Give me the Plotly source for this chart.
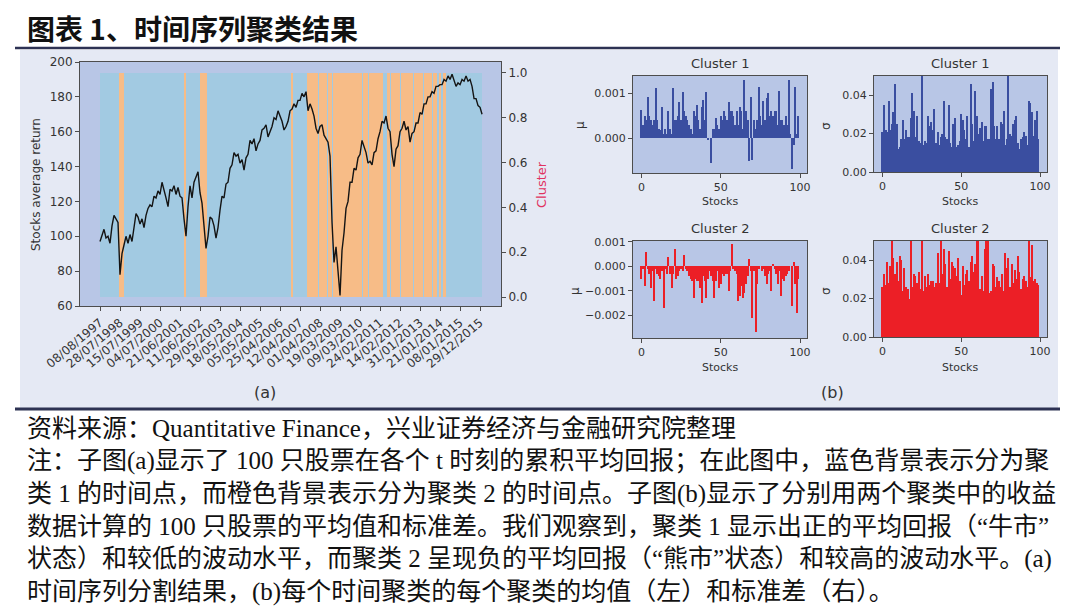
import plotly.graph_objects as go

W, H = 1080, 614
def px(x): return x / W
def py(y): return 1 - y / H

# ---------------- data ----------------
title_text = "图表 1、时间序列聚类结果"
date_tick_labels = ["08/08/1997", "28/07/1998", "15/07/1999", "04/07/2000", "21/06/2001",
                    "11/06/2002", "29/05/2003", "18/05/2004", "05/05/2005", "25/04/2006",
                    "12/04/2007", "01/04/2008", "19/03/2009", "09/03/2010", "24/02/2011",
                    "14/02/2012", "31/01/2013", "21/01/2014", "08/01/2015", "29/12/2015"]
days_per_tick = 250
days_per_sample = 25

# cumulative average return, sampled every 25 trading days
avg_return = [97, 101, 104, 99, 100, 96, 106, 112, 110, 108, 78, 90, 95, 100, 96, 101, 97, 105, 113, 111,
              107, 110, 105, 112, 116, 118, 117, 123, 122, 126, 124, 131, 127, 122, 117, 127, 126, 129, 124, 128,
              123, 122, 110, 100, 117, 129, 122, 131, 134, 137, 125, 119, 106, 93, 100, 111, 110, 106, 99, 105,
              115, 123, 122, 130, 131, 139, 141, 148, 146, 147, 142, 144, 138, 145, 147, 155, 153, 156, 149, 153,
              155, 161, 162, 164, 157, 160, 163, 168, 167, 172, 169, 166, 161, 163, 166, 172, 173, 176, 174, 178,
              178, 182, 180, 183, 172, 176, 173, 169, 162, 159, 163, 164, 158, 156, 154, 146, 108, 85, 94, 80,
              66, 92, 102, 116, 120, 131, 131, 139, 138, 145, 147, 155, 151, 148, 142, 143, 141, 148, 149, 156,
              160, 166, 165, 169, 162, 160, 147, 140, 150, 152, 160, 162, 166, 161, 163, 154, 159, 160, 165, 165,
              171, 170, 176, 176, 180, 180, 183, 182, 186, 186, 187, 187, 190, 189, 192, 190, 193, 189, 186, 188,
              187, 190, 189, 192, 189, 190, 186, 179, 179, 175, 174, 170]

# cluster 2 (orange) periods, in trading days; everything else is cluster 1 (blue)
cluster2_start = [237, 1050, 1250, 2388, 2588, 2738, 2850, 2908, 3288, 3363, 3588,
                  3638, 3758, 3920, 4046, 4158, 4238, 4288]
cluster2_end = [300, 1075, 1338, 2413, 2725, 2838, 2895, 3275, 3350, 3538, 3625,
                3745, 3908, 4033, 4145, 4213, 4263, 4325]

mu_cluster1 = [0.00063, 0.0003, 0.0005, 0.0004, 0.00093, 0.0005, 0.0004, 0.0003, 0.0004, 0.00112,
               0.0004, 0.0002, 0.00018, 0.0007, 0.0001, 0.0002, 0.0001, 0.0006, 0.0002, 0.0001,
               0.00112, 0.0004, 0.0004, 0.0005, 0.0008, 0.0004, 0.00103, 0.0006, 0.0005, 0.0004,
               0.0003, 0.0002, 0.0001, 0.0006, 0.0005, 0.00075, 0.0004, 0.0002, 0.0007, 0.00085,
               0.0004, 0.00103, -0.00005, 0.0, -0.00055, 0.0002, 0.0002, 0.00045, 0.0003, 0.0002,
               0.0005, 0.0004, 0.0006, 0.0005, 0.0004, 0.0008, 0.0006, 0.0006, 0.0005, 0.0003,
               0.0006, 0.0003, 0.0007, 0.0006, 0.0002, 0.0013, 0.0006, 0.0004, -0.00052, 0.00093,
               -0.0005, 0.0004, 0.0002, 0.0004, 0.00115, 0.0005, 0.0003, 0.00083, 0.0004, 0.0009,
               0.001, 0.0005, 0.0006, 0.0005, 0.0006, 0.0006, 0.0003, 0.00105, 0.0004, 0.0004,
               0.0003, 0.0005, 0.0003, 0.0013, 0.0001, -0.00068, -0.00015, 0.00115, 0.0001, 0.0005]

sigma_cluster1 = [0.021, 0.035, 0.022, 0.021, 0.037, 0.022, 0.025, 0.031, 0.046, 0.025,
                  0.012, 0.013, 0.017, 0.027, 0.017, 0.022, 0.018, 0.018, 0.028, 0.041,
                  0.032, 0.018, 0.029, 0.016, 0.015, 0.06, 0.014, 0.016, 0.015, 0.029,
                  0.024, 0.026, 0.022, 0.033, 0.015, 0.021, 0.014, 0.018, 0.020, 0.037,
                  0.018, 0.017, 0.035, 0.015, 0.013, 0.025, 0.028, 0.013, 0.014, 0.016,
                  0.030, 0.027, 0.022, 0.017, 0.029, 0.013, 0.046, 0.025, 0.016, 0.042,
                  0.029, 0.020, 0.023, 0.026, 0.016, 0.024, 0.024, 0.017, 0.017, 0.043,
                  0.047, 0.024, 0.017, 0.024, 0.017, 0.026, 0.025, 0.032, 0.014, 0.017,
                  0.06, 0.020, 0.019, 0.025, 0.027, 0.029, 0.015, 0.012, 0.017, 0.018,
                  0.021, 0.019, 0.014, 0.037, 0.036, 0.031, 0.019, 0.027, 0.032, 0.017]

mu_cluster2 = [-0.0005, -0.0001, -0.0008, 0.0006, -0.0001, -0.0003, -0.0009, -0.0002, -0.0014, -0.0001,
               -0.0003, -0.0004, -0.0005, -0.0002, -0.0017, -0.0001, -0.0003, 0.0004, -0.0003, -0.0009,
               -0.0003, 0.0007, -0.0005, -0.0004, -0.0002, -0.0001, -0.0002, 0.00045, -0.0001, -0.0002,
               -0.0004, -0.0005, -0.0006, -0.0013, -0.0005, -0.0006, -0.0006, -0.0009, -0.0015, -0.0004,
               -0.0006, -0.0013, -0.0005, -0.0002, -0.0004, -0.0006, -0.0013, -0.0006, -0.0002, -0.0009,
               -0.0007, -0.0003, -0.0004, -0.0003, -0.0003, -0.0010, -0.0002, 0.0009, -0.0001, -0.0002,
               -0.0003, -0.0014, -0.0012, -0.0008, -0.0013, -0.0011, -0.0007, -0.0004, 0.0003, -0.0002,
               -0.0021, -0.0002, -0.0027, -0.0007, -0.0001, 0.0, -0.0002, -0.0001, -0.0004, -0.0007,
               -0.0003, -0.0002, -0.0010, 0.0001, -0.0001, -0.0003, -0.0007, -0.0002, -0.0012, -0.0005,
               -0.0006, -0.0004, -0.0003, -0.0002, 0.0, -0.0016, 0.0002, -0.0007, -0.0019, -0.0005]

sigma_cluster2 = [0.026, 0.033, 0.027, 0.039, 0.028, 0.037, 0.06, 0.041, 0.033, 0.039,
                  0.029, 0.042, 0.040, 0.024, 0.036, 0.026, 0.025, 0.020, 0.06, 0.026,
                  0.033, 0.032, 0.028, 0.034, 0.025, 0.06, 0.024, 0.032, 0.026, 0.033,
                  0.027, 0.029, 0.029, 0.026, 0.028, 0.044, 0.028, 0.06, 0.033, 0.046,
                  0.038, 0.026, 0.045, 0.030, 0.039, 0.037, 0.036, 0.032, 0.041, 0.029,
                  0.022, 0.037, 0.027, 0.033, 0.035, 0.029, 0.039, 0.042, 0.034, 0.038,
                  0.06, 0.06, 0.025, 0.032, 0.024, 0.046, 0.06, 0.06, 0.023, 0.024,
                  0.038, 0.037, 0.026, 0.031, 0.029, 0.026, 0.033, 0.024, 0.044, 0.036,
                  0.041, 0.026, 0.038, 0.028, 0.035, 0.030, 0.042, 0.034, 0.025, 0.030,
                  0.032, 0.029, 0.026, 0.06, 0.031, 0.048, 0.029, 0.030, 0.028, 0.027]

note_lines = [
    "资料来源：Quantitative Finance，兴业证券经济与金融研究院整理",
    "注：子图(a)显示了 100 只股票在各个 t 时刻的累积平均回报；在此图中，蓝色背景表示分为聚",
    "类 1 的时间点，而橙色背景表示分为聚类 2 的时间点。子图(b)显示了分别用两个聚类中的收益",
    "数据计算的 100 只股票的平均值和标准差。我们观察到，聚类 1 显示出正的平均回报（“牛市”",
    "状态）和较低的波动水平，而聚类 2 呈现负的平均回报（“熊市”状态）和较高的波动水平。(a)",
    "时间序列分割结果，(b)每个时间聚类的每个聚类的均值（左）和标准差（右）。",
]

# ---------------- style ----------------
PANEL_BG = "#e5e9f4"
PLOT_BG = "#b8c6e6"
BLUE_BAND = "#a2cae2"
ORANGE_BAND = "#f7bc87"
C1_BAR = "#3a4ea0"
C2_BAR = "#ec1f26"
NAVY = "#2d3253"
TXT = "#333333"
SPINE = "#4d4d4d"
MPL_FONT = "DejaVu Sans"

fig = go.Figure()

# ---- panel (a): cluster bands + average return line ----
sample_days = [i * days_per_sample for i in range(len(avg_return))]
last_day = sample_days[-1]

fig.add_trace(go.Bar(x=[last_day / 2], y=[1], base=[0], width=[last_day],
                     marker=dict(color=BLUE_BAND, line=dict(width=0)),
                     xaxis="x", yaxis="y", hoverinfo="skip", showlegend=False))
fig.add_trace(go.Bar(x=[(s + e) / 2 for s, e in zip(cluster2_start, cluster2_end)],
                     y=[1] * len(cluster2_start), base=[0] * len(cluster2_start),
                     width=[e - s for s, e in zip(cluster2_start, cluster2_end)],
                     marker=dict(color=ORANGE_BAND, line=dict(width=0)),
                     xaxis="x", yaxis="y", hoverinfo="skip", showlegend=False))
fig.add_trace(go.Scatter(x=sample_days, y=avg_return, mode="lines",
                         line=dict(color="#141414", width=1.4),
                         xaxis="x", yaxis="y2", showlegend=False))

# ---- panel (b): four bar charts ----
stocks = list(range(len(mu_cluster1)))
for vals, col, xa, ya in [(mu_cluster1, C1_BAR, "x2", "y3"),
                          (sigma_cluster1, C1_BAR, "x3", "y4"),
                          (mu_cluster2, C2_BAR, "x4", "y5"),
                          (sigma_cluster2, C2_BAR, "x5", "y6")]:
    fig.add_trace(go.Bar(x=stocks, y=vals, width=0.8,
                         marker=dict(color=col, line=dict(width=0)),
                         xaxis=xa, yaxis=ya, showlegend=False))

tickfont = dict(family=MPL_FONT, size=12, color=TXT)
small_tickfont = dict(family=MPL_FONT, size=11, color=TXT)
common_axis = dict(showline=True, linecolor=SPINE, linewidth=1, mirror=True, automargin=False,
                   ticks="outside", ticklen=4, tickcolor=SPINE, showgrid=False, zeroline=False)

layout_axes = dict(
    xaxis=dict(domain=[px(80), px(501)], range=[-250, 5012], anchor="y",
               tickvals=[i * days_per_tick for i in range(len(date_tick_labels))],
               ticktext=date_tick_labels, tickangle=-40, tickfont=tickfont, **common_axis),
    yaxis=dict(domain=[py(306), py(62)], range=[-0.040, 1.049], anchor="x", side="right",
               tickvals=[0, 0.2, 0.4, 0.6, 0.8, 1.0],
               ticktext=["0.0", "0.2", "0.4", "0.6", "0.8", "1.0"], tickfont=tickfont, **common_axis),
    yaxis2=dict(range=[60, 200], overlaying="y", side="left", anchor="x",
                tickvals=list(range(60, 201, 20)), tickfont=tickfont, **common_axis),
    xaxis2=dict(domain=[px(633), px(807)], range=[-5.4, 104.4], anchor="y3",
                tickvals=[0, 50, 100], tickfont=small_tickfont, **common_axis),
    yaxis3=dict(domain=[py(173), py(76)], range=[-0.00078, 0.00139], anchor="x2",
                tickvals=[0, 0.001], ticktext=["0.000", "0.001"], tickfont=small_tickfont, **common_axis),
    xaxis3=dict(domain=[px(874), px(1047)], range=[-5.4, 104.4], anchor="y4",
                tickvals=[0, 50, 100], tickfont=small_tickfont, **common_axis),
    yaxis4=dict(domain=[py(172), py(76)], range=[0, 0.05], anchor="x3",
                tickvals=[0, 0.02, 0.04], ticktext=["0.00", "0.02", "0.04"], tickfont=small_tickfont, **common_axis),
    xaxis4=dict(domain=[px(633), px(807)], range=[-5.4, 104.4], anchor="y5",
                tickvals=[0, 50, 100], tickfont=small_tickfont, **common_axis),
    yaxis5=dict(domain=[py(338), py(241)], range=[-0.00293, 0.00104], anchor="x4",
                tickvals=[-0.002, -0.001, 0, 0.001],
                ticktext=["\u22120.002", "\u22120.001", "0.000", "0.001"], tickfont=small_tickfont, **common_axis),
    xaxis5=dict(domain=[px(874), px(1047)], range=[-5.4, 104.4], anchor="y6",
                tickvals=[0, 50, 100], tickfont=small_tickfont, **common_axis),
    yaxis6=dict(domain=[py(337), py(241)], range=[0, 0.05], anchor="x5",
                tickvals=[0, 0.02, 0.04], ticktext=["0.00", "0.02", "0.04"], tickfont=small_tickfont, **common_axis),
)

shapes = [
    dict(type="rect", xref="paper", yref="paper", x0=px(20), x1=px(1058), y0=py(408), y1=py(50),
         fillcolor=PANEL_BG, line=dict(width=0), layer="below"),
    dict(type="line", xref="paper", yref="paper", x0=px(15), x1=px(1060), y0=py(48), y1=py(48),
         line=dict(color=NAVY, width=2.5)),
    dict(type="line", xref="paper", yref="paper", x0=px(15), x1=px(1060), y0=py(409), y1=py(409),
         line=dict(color=NAVY, width=3)),
]
for xa, ya in [("x", "y"), ("x2", "y3"), ("x3", "y4"), ("x4", "y5"), ("x5", "y6")]:
    shapes.append(dict(type="rect", xref=xa + " domain", yref=ya + " domain", x0=0, x1=1, y0=0, y1=1,
                       fillcolor=PLOT_BG, line=dict(width=0), layer="below"))

ann = []
def text(x, y, s, size, color=TXT, family=MPL_FONT, angle=0, xanchor="center", **kw):
    ann.append(dict(xref="paper", yref="paper", x=px(x), y=py(y), text=s, showarrow=False,
                    font=dict(family=family, size=size, color=color), textangle=angle,
                    xanchor=xanchor, yanchor="middle", **kw))

text(25, 28, "<b>" + title_text + "</b>", 28, color="#111111",
     family="Noto Sans CJK SC", xanchor="left")
text(36, 185, "Stocks average return", 12, angle=-90)
text(541, 185, "Cluster", 13, color="#e0325f", angle=-90)
text(265, 393, "(a)", 16)
text(832, 393, "(b)", 16)
for cx, cy, s in [(720, 63, "Cluster 1"), (960, 63, "Cluster 1"), (720, 229, "Cluster 2"), (960, 229, "Cluster 2")]:
    text(cx, cy, s, 13)
for cx, cy in [(720, 202), (960, 202), (720, 367), (960, 367)]:
    text(cx, cy, "Stocks", 11)
text(580, 125, "\u03bc", 12, angle=-90)
text(575, 291, "\u03bc", 12, angle=-90)
text(826, 126, "\u03c3", 12, angle=-90)
text(826, 291, "\u03c3", 12, angle=-90)

for i, line in enumerate(note_lines):
    text(25, 428 + i * 32.8, line, 25, color="#111111",
         family="Liberation Serif, Noto Sans CJK SC", xanchor="left")

fig.update_layout(width=W, height=H,
                  margin=dict(l=0, r=0, t=0, b=0, pad=0, autoexpand=False),
                  paper_bgcolor="white", plot_bgcolor=PLOT_BG,
                  barmode="overlay", bargap=0, showlegend=False,
                  shapes=shapes, annotations=ann, **layout_axes)

fig.write_html("out.html")
